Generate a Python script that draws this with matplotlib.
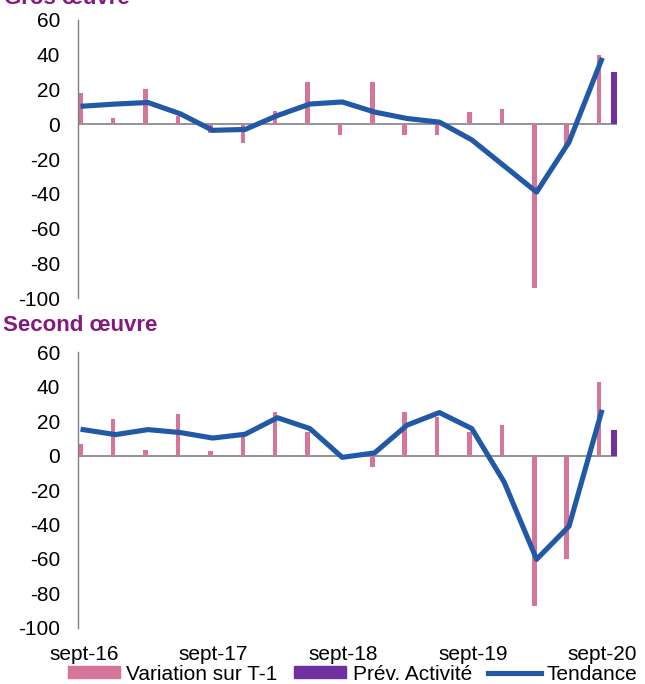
import numpy as np
import matplotlib
matplotlib.use("Agg")
import matplotlib.pyplot as plt
from matplotlib.patches import Patch
from matplotlib.lines import Line2D

plt.rcParams['font.family'] = ['Liberation Sans', 'DejaVu Sans']
plt.rcParams['axes.unicode_minus'] = False

# trimestres sept-16 .. sept-20
trimestres = ['sept-16', 'déc-16', 'mars-17', 'juin-17', 'sept-17', 'déc-17',
              'mars-18', 'juin-18', 'sept-18', 'déc-18', 'mars-19', 'juin-19',
              'sept-19', 'déc-19', 'mars-20', 'juin-20', 'sept-20']
etiquettes = ['sept-16', 'sept-17', 'sept-18', 'sept-19', 'sept-20']

# Gros oeuvre
gros_variation = [18, 3.5, 20, 5, -5, -11, 7.5, 24, -6, 24.5, -6, -6,
                  7, 9, -94, -13, 40]
gros_tendance = [10.4, 11.6, 12.5, 6, -3.5, -3, 5, 11.6, 12.8, 7, 3.3, 1.2,
                 -9, -24, -39, -10.3, 36.8]
gros_prev = 30

# Second oeuvre
second_variation = [6.5, 21.4, 3.5, 24.2, 2.4, 12, 25.3, 13.6, 0, -6.5, 25.5,
                    22.2, 13.6, 17.7, -87.5, -60, 43]
second_tendance = [15.1, 12.2, 15.1, 13.4, 10.2, 12.4, 22, 15.7, -1, 1.6, 17.7,
                   25, 15.7, -15.4, -60.2, -41, 25.2]
second_prev = 15

ROSE = '#D6759A'
VIOLET = '#7030A0'
BLEU = '#2159A6'
TITRE = '#84197F'
GRIS = '#808080'


def panneau(ax, variation, tendance, prev, bas=False):
    """ Trace un panneau (barres + tendance) """
    x = np.arange(len(variation))
    ax.axhline(0, color=GRIS, lw=1.2, zorder=1)
    ax.bar(x, variation, width=0.14, color=ROSE, zorder=2)
    ax.bar([x[-1] + 0.47], [prev], width=0.18, color=VIOLET, zorder=2)
    ax.plot(x + 0.07, tendance, color=BLEU, lw=3.7, zorder=3,
            solid_joinstyle='round')
    ax.set_xlim(-0.086, 16.56)
    ax.set_ylim(-100, 60)
    ax.set_yticks(range(-100, 61, 20))
    for s in ['top', 'right', 'bottom']:
        ax.spines[s].set_visible(False)
    ax.spines['left'].set_color(GRIS)
    ax.spines['left'].set_linewidth(1.0)
    ax.tick_params(axis='y', length=0, pad=13, labelsize=15)
    if bas:
        pos = [trimestres.index(e) for e in etiquettes]
        ax.set_xticks([p + 0.1 for p in pos])
        ax.set_xticklabels(etiquettes)
        ax.tick_params(axis='x', length=0, pad=12, labelsize=15)
    else:
        ax.set_xticks([])


fig = plt.figure(figsize=(6.45, 6.84), dpi=100)
ax1 = fig.add_axes([0.121, 0.564, 0.836, 0.407])
ax2 = fig.add_axes([0.121, 0.082, 0.836, 0.403])

panneau(ax1, gros_variation, gros_tendance, gros_prev)
panneau(ax2, second_variation, second_tendance, second_prev, bas=True)

fig.text(0.006, 1 - 4 / 684, 'Gros œuvre', color=TITRE, fontsize=16,
         fontweight='bold', va='baseline', ha='left')
fig.text(0.004, 1 - 331 / 684, 'Second œuvre', color=TITRE, fontsize=16,
         fontweight='bold', va='baseline', ha='left')

handles = [Patch(color=ROSE), Patch(color=VIOLET), Line2D([], [], color=BLEU, lw=3.7)]
fig.legend(handles, ['Variation sur T-1', 'Prév. Activité', 'Tendance'],
           loc='center left', bbox_to_anchor=(68 / 645, 1 - 674 / 684), ncol=3,
           frameon=False, fontsize=15, handlelength=2.5, handleheight=0.5,
           handletextpad=0.3, columnspacing=0.8, borderpad=0, borderaxespad=0)

fig.savefig('out.png', dpi=100)
